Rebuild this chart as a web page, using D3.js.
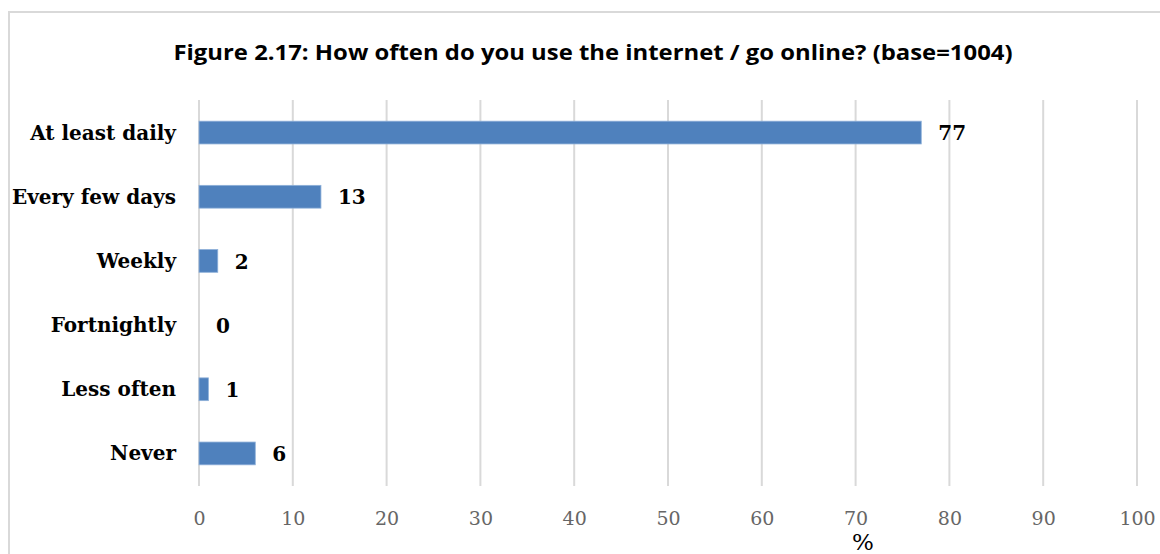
<!DOCTYPE html>
<html><head><meta charset="utf-8">
<script src="https://cdn.jsdelivr.net/npm/d3@7"></script>
<style>body{margin:0;background:#fff}svg{display:block}</style>
</head><body>
<script>
const categories = ["At least daily","Every few days","Weekly","Fortnightly","Less often","Never"];
const values = [77,13,2,0,1,6];
const ticks = [0,10,20,30,40,50,60,70,80,90,100];
const title = "Figure 2.17: How often do you use the internet / go online? (base=1004)";
const axisTitle = "%";

const W=1160,H=554;
const svg=d3.select("body").append("svg").attr("width",W).attr("height",H);
svg.append("rect").attr("x",9).attr("y",12).attr("width",W+20).attr("height",H+20)
  .attr("fill","#fff").attr("stroke","#d9d9d9").attr("stroke-width",2);

const x=d3.scaleLinear().domain([0,100]).range([199,1137]);
const y=d3.scaleBand().domain(categories).range([100,486]).paddingInner(0.645).paddingOuter(0.33);

svg.append("text").attr("x",593).attr("y",60).attr("text-anchor","middle")
  .attr("font-family","'Open Sans',sans-serif").attr("font-weight","bold")
  .attr("font-size",22).attr("textLength",839).attr("lengthAdjust","spacingAndGlyphs")
  .attr("fill","#000").text(title);

const g=svg.append("g");
g.selectAll("line.grid").data(ticks).join("line").attr("class","grid")
  .attr("x1",d=>x(d)).attr("x2",d=>x(d)).attr("y1",100).attr("y2",486)
  .attr("stroke","#d9d9d9").attr("stroke-width",2);

const xAxis=d3.axisBottom(x).tickValues(ticks).tickSize(0).tickPadding(0);
const ax=svg.append("g").attr("transform","translate(0,525)").call(xAxis);
ax.select(".domain").remove();
ax.selectAll("text").attr("font-family","'DejaVu Serif',serif").attr("font-size",19)
  .attr("fill","#666666").attr("dy",0);

g.selectAll("rect.bar").data(values).join("rect").attr("class","bar")
  .attr("x",x(0)).attr("y",(d,i)=>y(categories[i]))
  .attr("width",d=>x(d)-x(0)).attr("height",y.bandwidth())
  .attr("fill","#4f81bd").attr("stroke","#8eb0d9").attr("stroke-width",d=>d>0?0.8:0);

const yAxis=d3.axisLeft(y).tickSize(0).tickPadding(0);
const ay=svg.append("g").attr("transform","translate(176,0)").call(yAxis);
ay.select(".domain").remove();
ay.selectAll("text").attr("font-family","'DejaVu Serif',serif").attr("font-weight","bold")
  .attr("font-size",20).attr("fill","#000").attr("dy","0.35em");

g.selectAll("text.val").data(values).join("text").attr("class","val")
  .attr("x",d=>x(d)+17).attr("y",(d,i)=>y(categories[i])+y.bandwidth()/2)
  .attr("dy","0.38em").attr("font-family","'DejaVu Serif',serif").attr("font-weight","bold")
  .attr("font-size",20).attr("fill","#000").text(d=>d);

svg.append("text").attr("x",863).attr("y",550).attr("text-anchor","middle")
  .attr("font-family","'DejaVu Serif',serif").attr("font-size",23).attr("fill","#000").text(axisTitle);
</script>
</body></html>
